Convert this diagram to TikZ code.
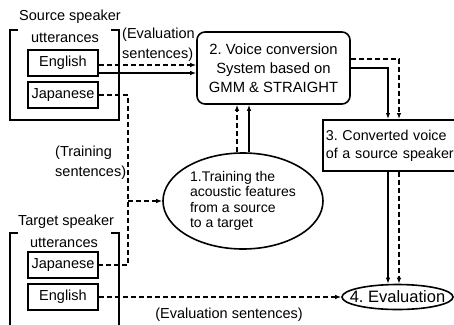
\documentclass[tikz,border=0pt]{standalone}
\usepackage{fontspec}
\setmainfont{Liberation Sans}
\usetikzlibrary{arrows.meta,shapes.geometric}

\begin{document}
\frenchspacing
\begin{tikzpicture}[x=1pt,y=-1pt,
  every node/.style={font=\fontsize{14.5}{15}\selectfont, inner sep=0pt},
  wbox/.style={draw, line width=1.6pt, minimum width=70pt, minimum height=26pt},
  frame/.style={line width=1.6pt},
  conn/.style={line width=1.1pt},
  dsh/.style={conn, dash pattern=on 5pt off 3pt},
  tip/.style={-{Latex[length=6pt,width=4.5pt]}},
  lbl/.style={align=left, anchor=west, font=\fontsize{14.5}{20}\selectfont},
]
\useasboundingbox (0,0) rectangle (454,324);

% speaker groups
\draw[frame] (18,30) -- (10,30) -- (10,120) -- (119,120) -- (119,30) -- (111,30);
\draw[frame] (18,233) -- (10,233) -- (10,330);
\draw[frame] (111,233) -- (119,233) -- (119,330);
\node (srcTitle) at (70,17) {Source speaker};
\node (srcUtt) at (65,38) {utterances};
\node (tgTitle) at (66,222) {Target speaker};
\node (tgUtt) at (64,243) {utterances};

\node[wbox] (srcEn) at (63,63) {English};
\node[wbox] (srcJa) at (63,95) {Japanese};
\node[wbox] (tgJa) at (63,265) {Japanese};
\node[wbox] (tgEn) at (63,297) {English};

% processing blocks
\node[draw, line width=1.6pt, rounded corners=8pt, minimum width=153pt,
      minimum height=72pt, align=center, font=\fontsize{14.8}{19}\selectfont]
  (sys) at (273.5,68) {2. Voice conversion\\System based on\\GMM \& STRAIGHT};
\node[draw, line width=1.6pt, anchor=north west, align=left, text width=140pt,
      inner xsep=3pt, minimum height=51pt, font=\fontsize{14.3}{18}\selectfont]
  (conv) at (322,119) {3. Converted voice\\of a source speaker};
\node[draw, ellipse, line width=1.6pt, minimum width=160pt, minimum height=96pt,
      align=left, font=\fontsize{14}{15.3}\selectfont]
  (train) at (243,201) {1.Training the\\acoustic features\\from a source\\to a target};
\node[draw, ellipse, line width=1.6pt, minimum width=111pt, minimum height=25pt]
  (eval) at (397.5,297) {};
\node[font=\fontsize{16.5}{18}\selectfont] (evalText) at (eval) {4. Evaluation};

% helper positions for parallel lines
\coordinate (yEvS) at (0,65);
\coordinate (ySolS) at (0,73);
\coordinate (bus) at (128,0);
\coordinate (upD) at (237,0);
\coordinate (upS) at (249,0);
\coordinate (ySysD) at (0,59);
\coordinate (ySysS) at (0,68);
\coordinate (dnS) at (388,0);
\coordinate (dnD) at (399,0);

% connectors
\draw[dsh,tip] (srcEn.east |- yEvS) -- (sys.west |- yEvS);
\draw[conn,tip] (srcEn.east |- ySolS) -- (sys.west |- ySolS);
\draw[dsh] (srcJa.east) -- (srcJa.east -| bus) -- (tgJa.east -| bus) -- (tgJa.east);
\draw[dsh,tip] (train.west -| bus) -- (train.west);
\draw[dsh,tip] (train.north -| upD) -- (sys.south -| upD);
\draw[conn,tip] (train.north -| upS) -- (sys.south -| upS);
\draw[dsh,tip] (sys.east |- ySysD) -| (conv.north -| dnD);
\draw[conn,tip] (sys.east |- ySysS) -| (conv.north -| dnS);
\draw[conn,tip] (conv.south -| dnS) -- (eval.north -| dnS);
\draw[dsh,tip] (conv.south -| dnD) -- (eval.north -| dnD);
\draw[dsh,tip] (tgEn.east) -- (eval.west);

% labels
\node[lbl] (lblEvTop) at (122,45) {(Evaluation\\sentences)};
\node[lbl] (lblTrain) at (55,163) {(Training\\sentences)};
\node (lblEvBot) at (229,315) {(Evaluation sentences)};
\end{tikzpicture}
\end{document}
